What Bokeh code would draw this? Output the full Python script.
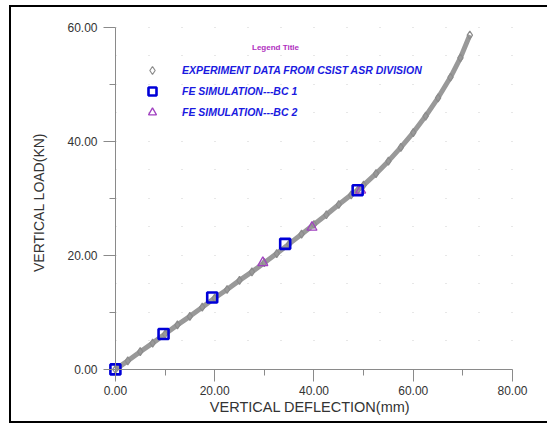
from bokeh.plotting import figure
from bokeh.models import (Range1d, FixedTicker, PrintfTickFormatter, Legend, LegendItem,
                          Label, LinearAxis, CustomJSTickFormatter)
from bokeh.embed import file_html
from bokeh.resources import INLINE

# ---- data ----
exp_x = [0, 2.5, 5, 7.5, 10, 12.5, 15, 17.5, 20, 22.5, 25, 27.5, 30, 32.5, 35, 37.5,
         40, 42.5, 45, 47.5, 48.8, 50, 52.5, 55, 57.5, 60, 62.5, 65, 67.5, 69.5, 71.4]
exp_y = [0, 1.5, 3.1, 4.6, 6.2, 7.8, 9.3, 10.9, 12.5, 14.0, 15.6, 17.1, 18.7, 20.3, 22.0, 23.7,
         25.4, 27.1, 28.9, 30.6, 31.4, 32.3, 34.3, 36.5, 38.9, 41.5, 44.4, 47.6, 51.2, 54.6, 58.6]
bc1_x = [0, 9.7, 19.5, 34.2, 48.8]
bc1_y = [0, 6.2, 12.6, 22.0, 31.4]
bc2_x = [29.7, 39.6, 49.4]
bc2_y = [18.7, 24.9, 31.4]
x_ticks = [0, 20, 40, 60, 80]
x_minor = [10, 30, 50, 70]
y_ticks = [0, 20, 40, 60]
y_minor = [10, 30, 50]
grid_rows = [0, 5, 10, 15, 20, 25, 30, 35, 40, 45, 50, 55, 60]
labels = ["EXPERIMENT DATA FROM CSIST ASR DIVISION", "FE SIMULATION---BC 1", "FE SIMULATION---BC 2"]

FONT = "Liberation Sans"
AXIS_GREY = "#8a8a8a"

p = figure(frame_width=415, frame_height=360, output_backend="svg", toolbar_location=None,
           x_range=Range1d(-2.6, 81), y_range=Range1d(-2.3, 60.8),
           min_border_left=91, min_border_right=30, min_border_top=15, min_border_bottom=39)
p.margin = (5, 0, 0, 9)
p.styles = {"border-left": "2px solid black", "border-top": "2px solid black",
            "border-bottom": "2px solid black", "border-right": "none"}
p.outline_line_color = None
p.xgrid.grid_line_color = None
p.ygrid.ticker = FixedTicker(ticks=grid_rows)
p.ygrid.grid_line_color = "#cfcfcf"
p.ygrid.grid_line_dash = "1 32"
p.ygrid.grid_line_dash_offset = 20

# label axes at the frame edges (text only)
for ax, ticks, minor in ((p.xaxis[0], x_ticks, x_minor), (p.yaxis[0], y_ticks, y_minor)):
    ax.ticker = FixedTicker(ticks=ticks, minor_ticks=minor)
    ax.formatter = PrintfTickFormatter(format="%.2f")
    ax.axis_line_color = None
    ax.major_tick_line_color = None
    ax.minor_tick_line_color = None
    ax.major_tick_out = 0
    ax.major_tick_in = 0
    ax.minor_tick_out = 0
    ax.minor_tick_in = 0
    ax.major_label_text_font = FONT
    ax.major_label_text_font_size = "12px"
    ax.major_label_text_color = "#333333"
    ax.axis_label_text_font = FONT
    ax.axis_label_text_font_size = "14.5px"
    ax.axis_label_text_font_style = "normal"
    ax.axis_label_text_color = "#333333"

p.xaxis.axis_label = "VERTICAL DEFLECTION(mm)"
p.yaxis.axis_label = "VERTICAL LOAD(KN)"
p.yaxis.axis_label_text_font_size = "14px"
p.xaxis.major_label_standoff = 3
p.yaxis.major_label_standoff = 5
p.xaxis.axis_label_standoff = 1
p.yaxis.axis_label_standoff = 17

# line-and-tick axes drawn through the origin (no labels)
def tick_axis(ticks, minor):
    ax = LinearAxis(ticker=FixedTicker(ticks=ticks, minor_ticks=minor),
                    bounds=(ticks[0], ticks[-1]), fixed_location=0,
                    formatter=CustomJSTickFormatter(code="return ''"))
    ax.axis_line_color = AXIS_GREY
    ax.major_tick_line_color = AXIS_GREY
    ax.minor_tick_line_color = AXIS_GREY
    ax.major_tick_out = 0
    ax.major_tick_in = 12
    ax.minor_tick_out = 0
    ax.minor_tick_in = 6
    ax.major_label_standoff = 0
    return ax

p.add_layout(tick_axis(x_ticks, x_minor), "above")
p.add_layout(tick_axis(y_ticks, y_minor), "right")

p.line(exp_x, exp_y, line_color="#999999", line_width=5)
r_exp = p.scatter(exp_x, exp_y, marker="diamond", size=8, fill_color=None,
                  line_color="#8c8c8c", line_width=1.2)
r_bc2 = p.scatter(bc2_x, bc2_y, marker="triangle", size=10, fill_color=None,
                  line_color="#a040c0", line_width=1.3)
r_bc1 = p.scatter(bc1_x, bc1_y, marker="square", size=10, fill_color=None,
                  line_color="#0000d8", line_width=2.6)

legend = Legend(items=[LegendItem(label=labels[0], renderers=[r_exp]),
                       LegendItem(label=labels[1], renderers=[r_bc1]),
                       LegendItem(label=labels[2], renderers=[r_bc2])],
                location=(40, 260), padding=0, margin=0, spacing=1,
                glyph_width=20, glyph_height=20, label_height=20, label_standoff=20,
                border_line_color=None, background_fill_color=None,
                label_text_font=FONT, label_text_font_size="10.5px",
                label_text_font_style="bold italic", label_text_color="#1a1ae0")
p.add_layout(legend, "center")

p.add_layout(Label(x=173, y=335, x_units="screen", y_units="screen", text="Legend Title",
                   text_font=FONT, text_font_size="8px", text_font_style="bold",
                   text_color="#b030c0", text_align="center", text_baseline="middle"))

open("out.html", "w").write(file_html(p, INLINE))
